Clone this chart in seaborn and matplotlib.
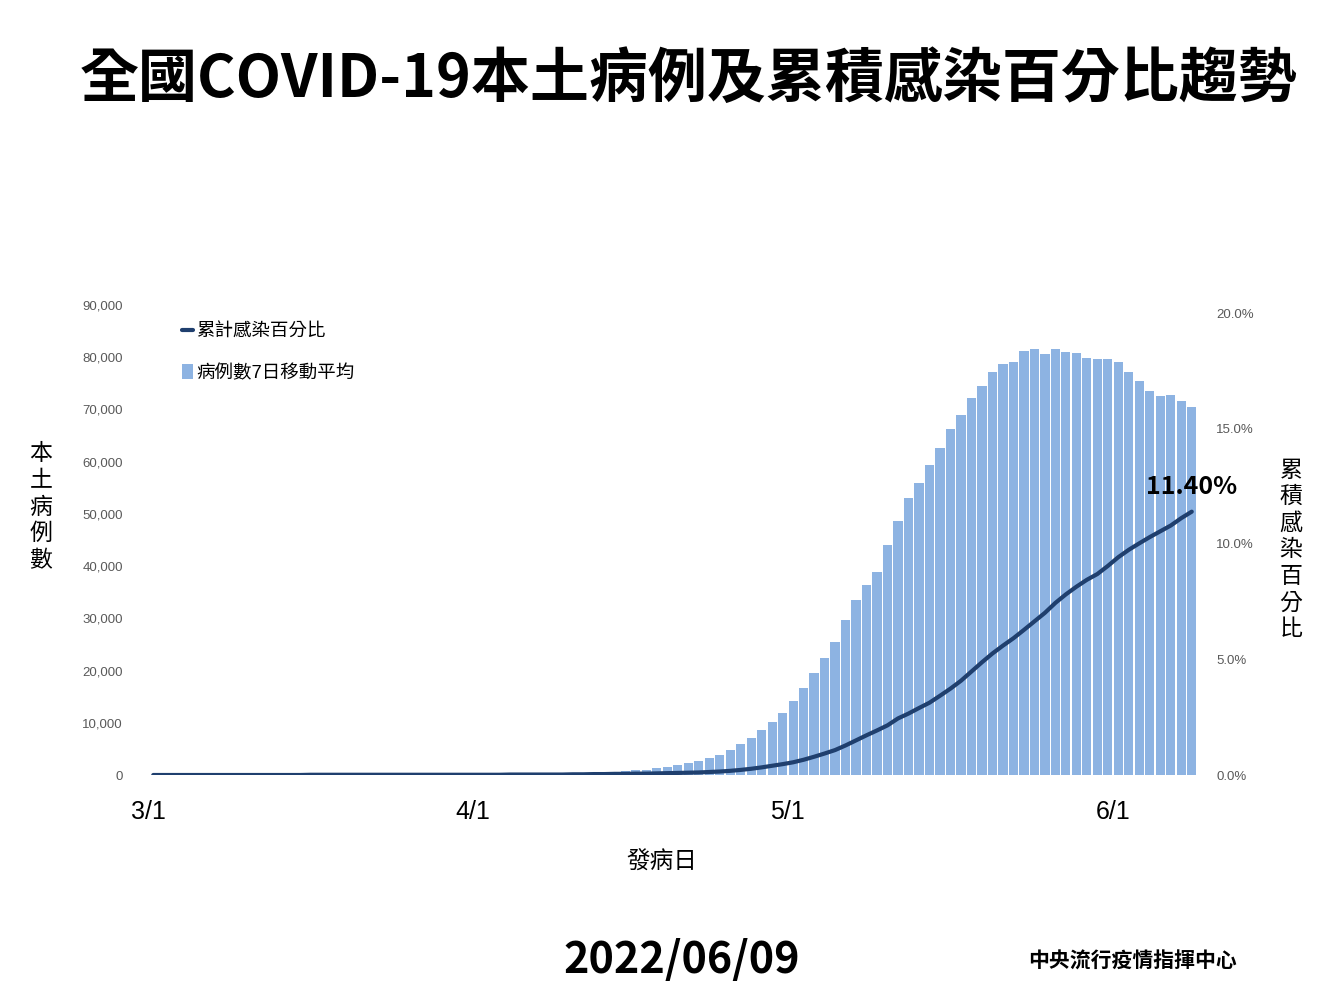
import numpy as np
import pandas as pd
import seaborn as sns
import matplotlib.pyplot as plt
from matplotlib.lines import Line2D
from matplotlib.patches import Patch
from matplotlib.ticker import FuncFormatter

# Data: 3/1 .. 6/8 (100 days)
START_DATE = '2022-03-01'

# 7-day moving average of local cases (left axis)
avg_cases = [
    10, 10, 12, 12, 14, 15, 15, 16, 18, 20,
    20, 22, 24, 25, 26, 28, 30, 30, 32, 35,
    38, 40, 42, 45, 50, 55, 60, 65, 70, 75,
    80, 90, 100, 110, 125, 140, 160, 180, 210, 250,
    300, 360, 430, 520, 630, 770, 900, 1020, 1280, 1530,
    1920, 2300, 2740, 3260, 3900, 4730, 5880, 7150, 8560, 10150,
    11880, 14120, 16600, 19540, 22410, 25480, 29690, 33520, 36340, 38900,
    44060, 48720, 53120, 56000, 59330, 62700, 66280, 68970, 72280, 74580,
    77200, 78740, 79120, 81170, 81480, 80590, 81610, 81090, 80780, 79940,
    79640, 79640, 79180, 77150, 75530, 73560, 72660, 72800, 71650, 70440,
]

# cumulative infection percentage (right axis)
cum_pct = [
    0.00, 0.00, 0.00, 0.00, 0.00, 0.00, 0.00, 0.00, 0.00, 0.00,
    0.00, 0.00, 0.00, 0.00, 0.00, 0.01, 0.01, 0.01, 0.01, 0.01,
    0.01, 0.01, 0.01, 0.01, 0.01, 0.01, 0.01, 0.01, 0.01, 0.01,
    0.01, 0.01, 0.01, 0.01, 0.02, 0.02, 0.02, 0.02, 0.02, 0.02,
    0.03, 0.03, 0.04, 0.04, 0.05, 0.05, 0.06, 0.06, 0.07, 0.08,
    0.09, 0.10, 0.11, 0.13, 0.15, 0.18, 0.22, 0.27, 0.33, 0.40,
    0.47, 0.55, 0.66, 0.79, 0.93, 1.08, 1.28, 1.50, 1.72, 1.93,
    2.15, 2.45, 2.66, 2.90, 3.13, 3.43, 3.74, 4.08, 4.48, 4.88,
    5.26, 5.60, 5.92, 6.28, 6.65, 7.02, 7.45, 7.82, 8.15, 8.45,
    8.70, 9.05, 9.43, 9.75, 10.03, 10.30, 10.55, 10.80, 11.12, 11.40,
]

left_ticks = [0, 10000, 20000, 30000, 40000, 50000, 60000, 70000, 80000, 90000]
right_ticks = [0, 5, 10, 15, 20]

BAR_COLOR = '#8DB3E2'
LINE_COLOR = '#1F3F6E'
TICK_COLOR = '#595959'
CJK = 'Noto Sans CJK TC'

dates = pd.date_range(START_DATE, periods=len(avg_cases))
df = pd.DataFrame({'day': np.arange(len(dates)), 'cases': avg_cases, 'pct': cum_pct})

sns.set_style('white')
plt.rcParams['font.family'] = ['Liberation Sans', CJK, 'DejaVu Sans']
plt.rcParams['text.color'] = 'black'

fig = plt.figure(figsize=(13.44, 10.08), dpi=100)
ax = fig.add_axes([148 / 1344, 1 - 775 / 1008, (1197 - 148) / 1344, 470 / 1008])

sns.barplot(data=df, x='day', y='cases', color=BAR_COLOR, saturation=1,
            width=0.88, linewidth=0, ax=ax)
ax.set_xlim(-0.5, len(df) - 0.5)
ax.set_ylim(0, 90000)
ax.set_yticks(left_ticks)
ax.yaxis.set_major_formatter(FuncFormatter(lambda v, p: f'{int(v):,}'))
ax.tick_params(axis='y', length=0, pad=18, labelsize=9.5, labelcolor=TICK_COLOR)

# month ticks on the 1st of each month (at the category boundary)
month_idx = [i for i, d in enumerate(dates) if d.day == 1]
ax.set_xticks([i - 0.5 for i in month_idx])
ax.set_xticklabels([f'{dates[i].month}/{dates[i].day}' for i in month_idx])
ax.tick_params(axis='x', length=0, pad=18, labelsize=18, labelcolor='black')
ax.set_xlabel('')
ax.set_ylabel('')

ax2 = ax.twinx()
sns.lineplot(data=df, x='day', y='pct', color=LINE_COLOR, linewidth=3, ax=ax2)
ax2.set_ylim(0, 20 * 470 / 462)
ax2.set_yticks(right_ticks)
ax2.yaxis.set_major_formatter(FuncFormatter(lambda v, p: f'{v:.1f}%'))
ax2.tick_params(axis='y', length=0, pad=14, labelsize=9.5, labelcolor=TICK_COLOR)
ax2.set_xlim(-0.5, len(df) - 0.5)
ax2.set_ylabel('')

for a in (ax, ax2):
    for s in a.spines.values():
        s.set_visible(False)
    a.grid(False)

# end label on the line
ax2.annotate(f'{cum_pct[-1]:.2f}%', xy=(df['day'].iloc[-1], cum_pct[-1]),
             xytext=(0, 9), textcoords='offset points', ha='center', va='bottom',
             fontsize=18, fontweight='bold', family=CJK, color='black')

handles = [Line2D([], [], color=LINE_COLOR, linewidth=3),
           Patch(facecolor=BAR_COLOR, edgecolor='none')]
leg = ax.legend(handles, ['累計感染百分比', '病例數7日移動平均'], loc='upper left',
                bbox_to_anchor=(182 / 1344, 1 - 323 / 1008), bbox_transform=fig.transFigure,
                frameon=False, fontsize=13.3, handlelength=0.6, handleheight=0.9,
                handletextpad=0.15, labelspacing=1.25, borderpad=0, borderaxespad=0)
for t in leg.get_texts():
    t.set_color('black')

# titles and axis labels
fig.text(689 / 1344, 1 - 80 / 1008, '全國COVID-19本土病例及累積感染百分比趨勢',
         ha='center', va='center', fontsize=42.5, fontweight='heavy', family=CJK)
fig.text(41 / 1344, 1 - 507 / 1008, '\n'.join('本土病例數'), ha='center', va='center',
         fontsize=16.5, linespacing=1.2, family=CJK)
fig.text(1291 / 1344, 1 - 550 / 1008, '\n'.join('累積感染百分比'), ha='center', va='center',
         fontsize=16.5, linespacing=1.2, family=CJK)
fig.text(662 / 1344, 1 - 862 / 1008, '發病日', ha='center', va='center',
         fontsize=17, family=CJK)
fig.text(682 / 1344, 1 - 960 / 1008, '2022/06/09', ha='center', va='center',
         fontsize=31, fontweight='bold', family=CJK)
fig.text(1132 / 1344, 1 - 961 / 1008, '中央流行疫情指揮中心', ha='center', va='center',
         fontsize=15, fontweight='bold', family=CJK)

fig.savefig('out.png', dpi=100, facecolor='white')
